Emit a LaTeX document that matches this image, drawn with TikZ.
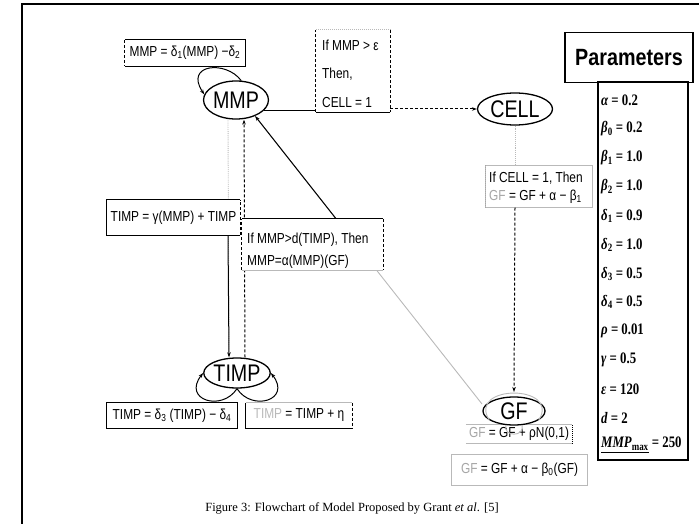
\documentclass[tikz,border=0pt]{standalone}
\usepackage{fontspec}
\setmainfont{Liberation Serif}
\newfontfamily\nar[FakeStretch=0.82]{Liberation Sans}
\newfontfamily\narw[FakeStretch=0.84]{Liberation Sans}
\newfontfamily\pser[FakeStretch=0.8]{Liberation Serif}
\usetikzlibrary{shapes.geometric,arrows.meta,calc}
\newcommand\sbs[1]{\textsubscript{#1}}
\newcommand\gi[1]{{\itshape #1}}
\begin{document}
\begin{tikzpicture}[x=1pt,y=-1pt,
  eqf/.style={font=\nar\fontsize{14.5}{18}\selectfont},
  txt/.style={eqf, inner sep=0pt, align=left},
  boxn/.style={inner sep=0pt, draw=none},
  bl/.style={line width=1pt},
  blg/.style={line width=1pt, draw=gray!55},
  ell/.style={ellipse, draw, line width=1.3pt, inner sep=0pt, font=\nar\fontsize{24}{26}\selectfont},
  par/.style={anchor=west, inner sep=0pt, font=\pser\bfseries\fontsize{16}{18}\selectfont},
  tip/.style={-{Stealth[length=5pt,width=3.5pt]}},
  lg/.style={draw=gray!55, line width=0.9pt}
]
\useasboundingbox (0,0) rectangle (699,524);
% frame
\draw[line width=1.6pt] (22,540) -- (22,4) -- (710,4);

% ---- nodes
\node[ell, minimum width=56, minimum height=38] (mmp) at (236,100) {MMP};
\node[ell, minimum width=75, minimum height=32] (cell) at (515,109) {CELL};
\node[ell, minimum width=62, minimum height=30] (timp) at (237,373) {TIMP};

% ---- connectors (behind boxes)
\draw[lg] (482,404) -- (mmp.-40);
\draw[bl, tip] ($(482,404)!0.62!(mmp.-40)$) -- (mmp.-40);
\draw[bl] (mmp.-20) -- (mmp.-20 -| 340,0);
\draw[bl, densely dashed, tip] (cell.west -| 360,0) -- (cell.west);
\draw[lg, densely dotted] ([xshift=-8pt]mmp.south) -- ([xshift=-8pt]timp.north);
\draw[bl, tip] ([xshift=-8pt]mmp.south |- 0,235) -- ([xshift=-8pt]timp.north);
\draw[bl, densely dashed, tip] ([xshift=8pt]timp.north) -- ([xshift=8pt]mmp.south);
\draw[lg, densely dotted] (cell.south) -- (cell.south |- 0,166);

% self loops
\draw[bl, tip] (mmp.75) .. controls (226,60) and (184,64) .. (mmp.170);
\draw[bl, tip] (timp.south) .. controls (222,412) and (182,400) .. (timp.west);
\draw[bl, tip] (timp.south) .. controls (252,412) and (292,400) .. (timp.east);

% ---- boxes
% MMP update
\node[boxn, fill=white, minimum width=120, minimum height=26] (mmpeq) at (185,53) {};
\draw[bl] (mmpeq.south west) -- (mmpeq.south east) -- (mmpeq.north east) -- (mmpeq.north west);
\draw[bl, densely dashed] (mmpeq.north west) -- (mmpeq.south west);
\node[txt] (mmpeqt) at (185,53) {MMP = δ\sbs{1}(MMP) −δ\sbs{2}};

% If MMP > eps
\node[boxn, fill=white, minimum width=74, minimum height=82] (cond1) at (353,71) {};
\draw[blg, densely dotted] (cond1.north west) -- (cond1.north east);
\draw[bl, densely dashed] (cond1.north east) -- (cond1.south east);
\draw[bl] (cond1.south east) -- (cond1.south west);
\draw[bl, densely dashed] (cond1.south west) -- (cond1.north west);
\node[txt, anchor=west] (c1a) at (322,45) {If MMP > ε};
\node[txt, anchor=west] (c1b) at (322,74) {Then,};
\node[txt, anchor=west] (c1c) at (322,103) {CELL = 1};

% TIMP update
\node[boxn, fill=white, minimum width=133, minimum height=35] (timpeq) at (173.5,217.5) {};
\draw[bl] (timpeq.north east) -- (timpeq.north west) -- (timpeq.south west) -- (timpeq.south east);
\draw[bl, densely dashed] (timpeq.south east) -- (timpeq.north east);
\node[txt] (timpeqt) at (173.5,217.5) {TIMP = γ(MMP) + TIMP};

% If MMP > d(TIMP)
\node[boxn, fill=white, minimum width=141, minimum height=51] (condmmp) at (312.5,244.5) {};
\draw[bl] (condmmp.north west) -- (condmmp.north east);
\draw[bl, densely dashed] (condmmp.north east) -- (condmmp.south east);
\draw[blg] (condmmp.south east) -- (condmmp.south west);
\draw[bl, densely dashed] (condmmp.south west) -- (condmmp.north west);
\node[txt, anchor=west] (cma) at (247,240) {If MMP>d(TIMP), Then};
\node[txt, anchor=west] (cmb) at (247,262) {MMP=α(MMP)(GF)};

% If CELL = 1
\node[boxn, fill=white, minimum width=106, minimum height=42] (condcell) at (539,186.5) {};
\draw[blg] (condcell.north west) rectangle (condcell.south east);
\draw[bl, densely dotted, gray!70] (condcell.north west) -- (condcell.south west);
\node[txt, anchor=west] (cca) at (489,178) {If CELL = 1, Then};
\node[txt, anchor=west] (ccb) at (489,197) {{\color{gray!70}GF} = GF + α − β\sbs{1}};

% TIMP boxes
\node[boxn, fill=white, minimum width=130, minimum height=25] (timpa) at (172,415.5) {};
\draw[bl] (timpa.north west) rectangle (timpa.south east);
\node[txt] (timpat) at (172,415.5) {TIMP = δ\sbs{3} (TIMP) − δ\sbs{4}};
\node[boxn, fill=white, minimum width=106, minimum height=25] (timpb) at (299,415.5) {};
\draw[bl] (timpb.north west) -- (timpb.south west) -- (timpb.south east);
\draw[blg] (timpb.north west) -- (timpb.north east);
\draw[bl, densely dashed] (timpb.north east) -- (timpb.south east);
\node[txt] (timpbt) at (299,415.5) {{\color{gray!55}TIMP} = TIMP + η};

% GF boxes
\node[boxn, fill=white, minimum width=106, minimum height=18] (gfa) at (519,434) {};
\draw[blg] (gfa.north west) -- (gfa.north east);
\draw[blg] (gfa.south west) -- (gfa.south east);
\draw[bl, densely dotted] (gfa.north east) -- (gfa.south east);
\node[txt] (gfat) at (519,434) {{\color{gray!70}GF} = GF + ρN(0,1)};
\node[boxn, fill=white, minimum width=135, minimum height=30] (gfb) at (519.5,470) {};
\draw[blg] (gfb.north west) rectangle (gfb.south east);
\node[txt] (gfbt) at (519.5,470) {{\color{gray!70}GF} = GF + α − β\sbs{0}(GF)};

% GF node with its loops, on top of the box edge
\node[ell, fill=white, minimum width=62, minimum height=28] (gf) at (514,411) {GF};
\draw[lg] (gf.200) .. controls +(-22,-36) and +(22,-36) .. (gf.-20);
\draw[lg] (gf.-120) .. controls +(-3,12) and +(3,12) .. (gf.-60);
\draw[bl, densely dashed, tip] (cell.south |- condcell.south) -- (gf.north |- 0,392);

% ---- Parameters
\node[draw, line width=1.6pt, inner sep=0pt, minimum width=128, minimum height=50,
  font=\narw\bfseries\fontsize{23.5}{26}\selectfont] (ptitle) at (629,57.5) {Parameters};
\node[draw, line width=1.6pt, inner sep=0pt, minimum width=90, minimum height=378] (plist) at (643,271) {};
\node[par] (p1) at (601,100) {\gi{α} = 0.2};
\node[par] (p2) at (601,129) {\gi{β}\sbs{0} = 0.2};
\node[par] (p3) at (601,158) {\gi{β}\sbs{1} = 1.0};
\node[par] (p4) at (601,187) {\gi{β}\sbs{2} = 1.0};
\node[par] (p5) at (601,216) {\gi{δ}\sbs{1} = 0.9};
\node[par] (p6) at (601,245) {\gi{δ}\sbs{2} = 1.0};
\node[par] (p7) at (601,274) {\gi{δ}\sbs{3} = 0.5};
\node[par] (p8) at (601,302) {\gi{δ}\sbs{4} = 0.5};
\node[par] (p9) at (601,331) {\gi{ρ} = 0.01};
\node[par] (p10) at (601,360) {\gi{γ} = 0.5};
\node[par] (p11) at (601,389) {\gi{ε} = 120};
\node[par] (p12) at (601,418) {\gi{d} = 2};
\node[par] (p13) at (601,445) {\underline{\gi{MMP}\sbs{max}} = 250};

% caption
\node[inner sep=0pt, font=\fontsize{12.5}{14}\selectfont] (cap) at (352,508) {Figure 3: Flowchart of Model Proposed by Grant \textit{et al}. [5]};
\end{tikzpicture}
\end{document}
